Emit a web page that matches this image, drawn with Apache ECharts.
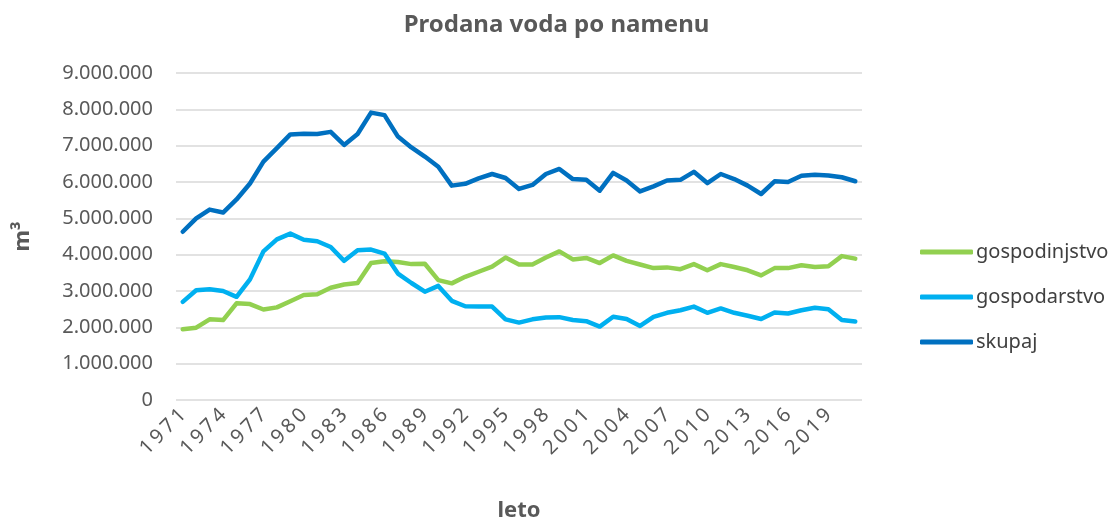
<!DOCTYPE html>
<html>
<head>
<meta charset="utf-8">
<script src="https://cdn.jsdelivr.net/npm/echarts@6/dist/echarts.min.js"></script>
<style>
html, body { margin: 0; padding: 0; background: #fff; }
#main { width: 1113px; height: 519px; }
</style>
</head>
<body>
<div id="main"></div>
<script>
// leta 1971-2021
var years = [];
for (var y = 1971; y <= 2021; y++) years.push(String(y));

// gospodinjstvo (m3)
var gospodinjstvo = [1950000, 1990000, 2220000, 2200000, 2660000, 2640000, 2490000, 2550000, 2720000, 2890000,
	2910000, 3090000, 3180000, 3220000, 3770000, 3820000, 3800000, 3740000, 3750000, 3300000,
	3210000, 3390000, 3530000, 3670000, 3920000, 3730000, 3730000, 3920000, 4090000, 3870000,
	3910000, 3770000, 3980000, 3830000, 3730000, 3630000, 3650000, 3600000, 3740000, 3570000,
	3740000, 3660000, 3570000, 3430000, 3630000, 3630000, 3710000, 3660000, 3680000, 3960000, 3890000];

// gospodarstvo (m3)
var gospodarstvo = [2700000, 3020000, 3050000, 3000000, 2840000, 3320000, 4090000, 4420000, 4580000, 4410000,
	4370000, 4210000, 3830000, 4120000, 4140000, 4030000, 3480000, 3220000, 2980000, 3140000,
	2730000, 2580000, 2570000, 2570000, 2220000, 2130000, 2220000, 2270000, 2280000, 2200000,
	2170000, 2020000, 2290000, 2230000, 2040000, 2290000, 2400000, 2470000, 2570000, 2400000,
	2520000, 2400000, 2320000, 2230000, 2410000, 2380000, 2470000, 2540000, 2500000, 2200000, 2160000];

// skupaj (m3)
var skupaj = [4630000, 5000000, 5240000, 5160000, 5520000, 5960000, 6560000, 6930000, 7310000, 7330000,
	7320000, 7380000, 7020000, 7320000, 7910000, 7840000, 7250000, 6950000, 6700000, 6420000,
	5900000, 5950000, 6100000, 6220000, 6110000, 5810000, 5920000, 6220000, 6360000, 6080000,
	6060000, 5760000, 6250000, 6040000, 5740000, 5880000, 6040000, 6060000, 6280000, 5970000,
	6220000, 6080000, 5900000, 5670000, 6020000, 6000000, 6170000, 6200000, 6180000, 6130000, 6020000];

var barve = ['#92D050', '#00B0F0', '#0070C0'];
var font = 'Noto Sans';

var myChart = echarts.init(document.getElementById('main'));

function crta(ime, podatki) {
	return {
		name: ime,
		type: 'line',
		data: podatki,
		symbol: 'none',
		lineStyle: { width: 4.5, cap: 'round', join: 'round' },
		emphasis: { disabled: true }
	};
}

var option = {
	animation: false,
	color: barve,
	textStyle: { fontFamily: font },
	title: {
		text: 'Prodana voda po namenu',
		left: 'center',
		top: 8,
		textStyle: { fontSize: 24, fontWeight: 'bold', color: '#595959', fontFamily: font }
	},
	legend: {
		orient: 'vertical',
		left: 915,
		top: 237,
		itemWidth: 53,
		itemHeight: 5,
		itemGap: 25,
		icon: 'roundRect',
		textStyle: { fontSize: 20, color: '#404040', fontFamily: font, padding: [0, 0, 0, -2] },
		data: ['gospodinjstvo', 'gospodarstvo', 'skupaj']
	},
	grid: { left: 176, right: 251, top: 73, bottom: 119, outerBoundsMode: 'none' },
	xAxis: {
		type: 'category',
		data: years,
		boundaryGap: true,
		name: 'leto',
		nameLocation: 'middle',
		nameGap: 100,
		nameTextStyle: { fontSize: 22, fontWeight: 'bold', color: '#595959' },
		axisLine: { show: false },
		axisTick: { show: false },
		axisLabel: {
			interval: 2,
			rotate: 45,
			fontSize: 20,
			color: '#595959',
			margin: 12,
			// razmik med števkami kot v izvirniku
			formatter: function(v) { return v.split('').join('\u2009'); }
		}
	},
	yAxis: {
		type: 'value',
		min: 0,
		max: 9000000,
		interval: 1000000,
		name: 'm³',
		nameLocation: 'middle',
		nameGap: 142,
		nameTextStyle: { fontSize: 22, fontWeight: 'bold', color: '#595959' },
		axisLabel: {
			fontSize: 20,
			color: '#595959',
			margin: 23,
			formatter: function(v) {
				return String(v).replace(/\B(?=(\d{3})+(?!\d))/g, '.');
			}
		},
		splitLine: { lineStyle: { color: '#d9d9d9', width: 1.5 } }
	},
	series: [
		crta('gospodinjstvo', gospodinjstvo),
		crta('gospodarstvo', gospodarstvo),
		crta('skupaj', skupaj)
	]
};
myChart.setOption(option);
</script>
</body>
</html>
